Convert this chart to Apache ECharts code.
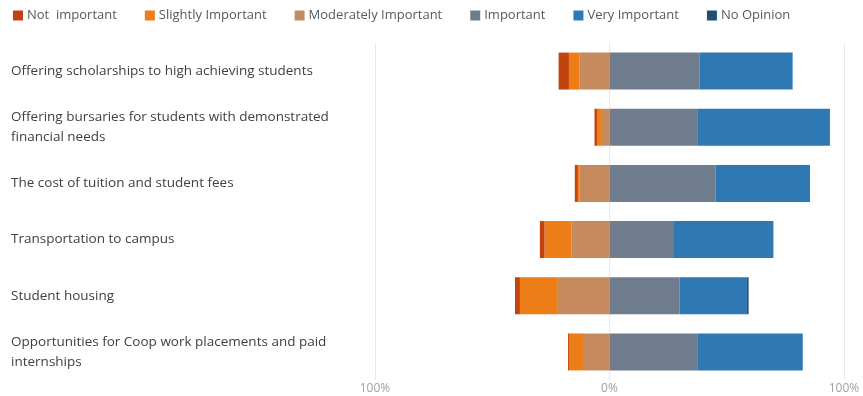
<!DOCTYPE html>
<html>
<head>
<meta charset="utf-8">
<script src="https://cdn.jsdelivr.net/npm/echarts@6/dist/echarts.min.js"></script>
<style>
  html, body { margin: 0; padding: 0; background: #fff; }
  #chart { width: 863px; height: 396px; }
</style>
</head>
<body>
<div id="chart"></div>
<script>
// Survey factors (top to bottom)
const categories = [
  'Offering scholarships to high achieving students',
  'Offering bursaries for students with demonstrated\nfinancial needs',
  'The cost of tuition and student fees',
  'Transportation to campus',
  'Student housing',
  'Opportunities for Coop work placements and paid\ninternships'
];

// Share of responses (%), negative side drawn left of 0
const notImportant      = [4.4, 1.1, 1.3, 2.0, 2.1, 0.4];
const slightlyImportant = [4.4, 1.7, 0.6, 11.4, 16.2, 6.4];
const moderatelyImportant = [12.9, 3.6, 12.9, 16.3, 22.0, 10.9];
const important         = [38.4, 37.7, 45.2, 27.5, 29.9, 37.7];
const veryImportant     = [39.7, 56.3, 40.3, 42.4, 28.7, 44.7];
const noOpinion         = [0.0, 0.0, 0.0, 0.0, 0.7, 0.0];

const axisTicks = [-100, 0, 100];

const colors = {
  'Not  important': '#C1440E',
  'Slightly Important': '#ED7D17',
  'Moderately Important': '#C68A5E',
  'Important': '#6F7C8E',
  'Very Important': '#2E78B3',
  'No Opinion': '#1F4E79'
};

const neg = arr => arr.map(v => -v);

function barSeries(name, data) {
  return {
    name: name,
    type: 'bar',
    stack: 'total',
    barWidth: 37,
    data: data,
    itemStyle: { color: colors[name] },
    emphasis: { disabled: true }
  };
}

const chart = echarts.init(document.getElementById('chart'), null, { renderer: 'canvas' });

chart.setOption({
  animation: false,
  textStyle: { fontFamily: '"Open Sans", "Noto Sans", sans-serif' },
  legend: {
    data: ['Not  important', 'Slightly Important', 'Moderately Important', 'Important', 'Very Important', 'No Opinion'],
    left: 8,
    top: 4,
    itemWidth: 10,
    itemHeight: 10,
    itemGap: 28,
    icon: 'rect',
    textStyle: { color: '#595959', fontSize: 13, padding: [0, 0, 0, -1] }
  },
  grid: { left: 375, right: 19, top: 43, bottom: 16, containLabel: false },
  xAxis: {
    type: 'value',
    min: axisTicks[0],
    max: axisTicks[axisTicks.length - 1],
    interval: 100,
    axisLine: { show: false },
    axisTick: { show: false },
    splitLine: { show: true, lineStyle: { color: '#E8E8E8', width: 1 } },
    axisLabel: {
      color: '#A0A0A0',
      fontSize: 12,
      margin: 3,
      formatter: v => Math.abs(v) + '%'
    }
  },
  yAxis: {
    type: 'category',
    inverse: true,
    data: categories,
    axisLine: { show: false },
    axisTick: { show: false },
    axisLabel: {
      color: '#404040',
      fontSize: 13.5,
      align: 'left',
      margin: 364,
      lineHeight: 20
    }
  },
  series: [
    barSeries('Moderately Important', neg(moderatelyImportant)),
    barSeries('Slightly Important', neg(slightlyImportant)),
    barSeries('Not  important', neg(notImportant)),
    barSeries('Important', important),
    barSeries('Very Important', veryImportant),
    barSeries('No Opinion', noOpinion)
  ]
});
</script>
</body>
</html>
